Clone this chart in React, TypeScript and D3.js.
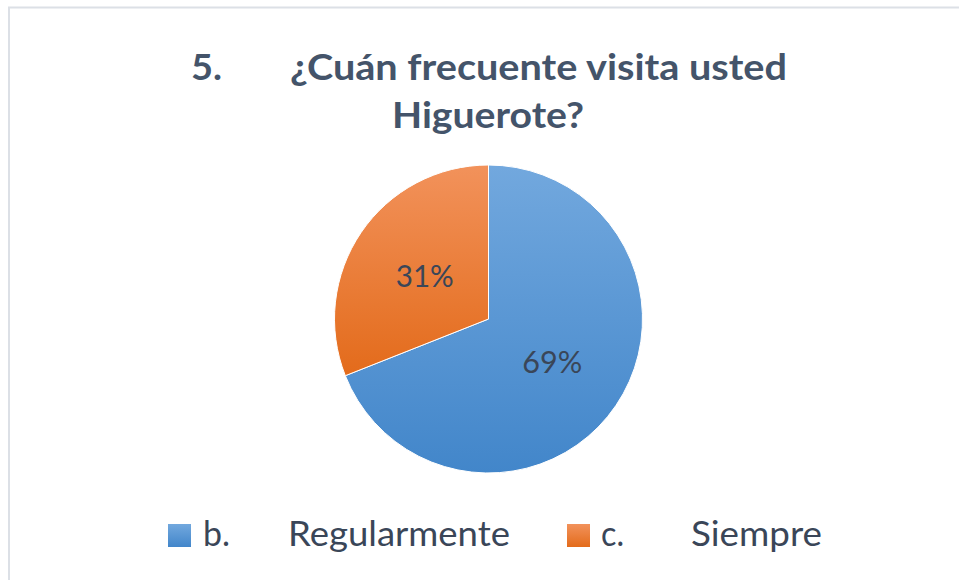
import React from "react";
import * as d3 from "d3";

const categories = ["b.", "c."];
const categoryNames = ["Regularmente", "Siempre"];
const values = [69, 31];
const titleLines = ["5.", "¿Cuán frecuente visita usted", "Higuerote?"];

const W = 959;
const H = 580;
const cx = 488.5;
const cy = 319;
const R = 154;

const gradStops = [
  ["#72A8DE", "#4286CA"],
  ["#F2925B", "#E36B1B"],
];

export default function App() {
  const pie = d3
    .pie<number>()
    .sort(null)
    .value((d) => d);
  const arcs = pie(values);
  const arcGen = d3.arc<d3.PieArcDatum<number>>().innerRadius(0).outerRadius(R);
  const labelArc = d3
    .arc<d3.PieArcDatum<number>>()
    .innerRadius(R * 0.5)
    .outerRadius(R * 0.5);
  const total = d3.sum(values);
  const fmt = (v: number) => `${Math.round((v / total) * 100)}%`;

  const font = "Lato, 'Open Sans', sans-serif";
  const titleColor = "#44546A";
  const textColor = "#3A4658";

  const legendX = [
    { sq: 168, code: 203, codeW: 27, name: 288, nameW: 222 },
    { sq: 567, code: 601, codeW: 23, name: 691, nameW: 131 },
  ];

  return (
    <svg
      width={W}
      height={H}
      style={{ position: "absolute", left: 0, top: 0, background: "#fff" }}
    >
      <defs>
        {gradStops.map((g, i) => (
          <linearGradient key={i} id={`g${i}`} x1="0" y1="0" x2="0" y2="1">
            <stop offset="0%" stopColor={g[0]} />
            <stop offset="100%" stopColor={g[1]} />
          </linearGradient>
        ))}
      </defs>
      <rect x={0} y={0} width={W} height={H} fill="#fff" />
      <rect
        x={9}
        y={7.5}
        width={W + 20}
        height={H + 20}
        fill="#fff"
        stroke="#DCE0E6"
        strokeWidth={2}
      />
      <g fontFamily={font} fontWeight="bold" fill={titleColor} fontSize={37}>
        <text x={191} y={79.5} textLength={31} lengthAdjust="spacingAndGlyphs">
          {titleLines[0]}
        </text>
        <text x={290} y={79.5} textLength={497} lengthAdjust="spacingAndGlyphs">
          {titleLines[1]}
        </text>
        <text x={392} y={128} textLength={192} lengthAdjust="spacingAndGlyphs">
          {titleLines[2]}
        </text>
      </g>
      <g transform={`translate(${cx},${cy})`}>
        {arcs.map((a, i) => (
          <path
            key={i}
            d={arcGen(a) || ""}
            fill={`url(#g${i})`}
            stroke="#fff"
            strokeWidth={1}
            strokeLinejoin="round"
          />
        ))}
        {arcs.map((a, i) => {
          const [lx, ly] = labelArc.centroid(a);
          return (
            <text
              key={i}
              x={lx}
              y={ly + 11}
              textAnchor="middle"
              fontFamily={font}
              fontSize={31}
              fill={textColor}
              textLength={i === 0 ? 60 : 58}
              lengthAdjust="spacingAndGlyphs"
            >
              {fmt(a.data)}
            </text>
          );
        })}
      </g>
      <g fontFamily={font} fontSize={34} fill={textColor}>
        {categories.map((c, i) => (
          <g key={i}>
            <rect
              x={legendX[i].sq}
              y={524}
              width={23}
              height={23}
              fill={`url(#g${i})`}
            />
            <text
              x={legendX[i].code}
              y={546}
              textLength={legendX[i].codeW}
              lengthAdjust="spacingAndGlyphs"
            >
              {c}
            </text>
            <text
              x={legendX[i].name}
              y={546}
              textLength={legendX[i].nameW}
              lengthAdjust="spacingAndGlyphs"
            >
              {categoryNames[i]}
            </text>
          </g>
        ))}
      </g>
    </svg>
  );
}
